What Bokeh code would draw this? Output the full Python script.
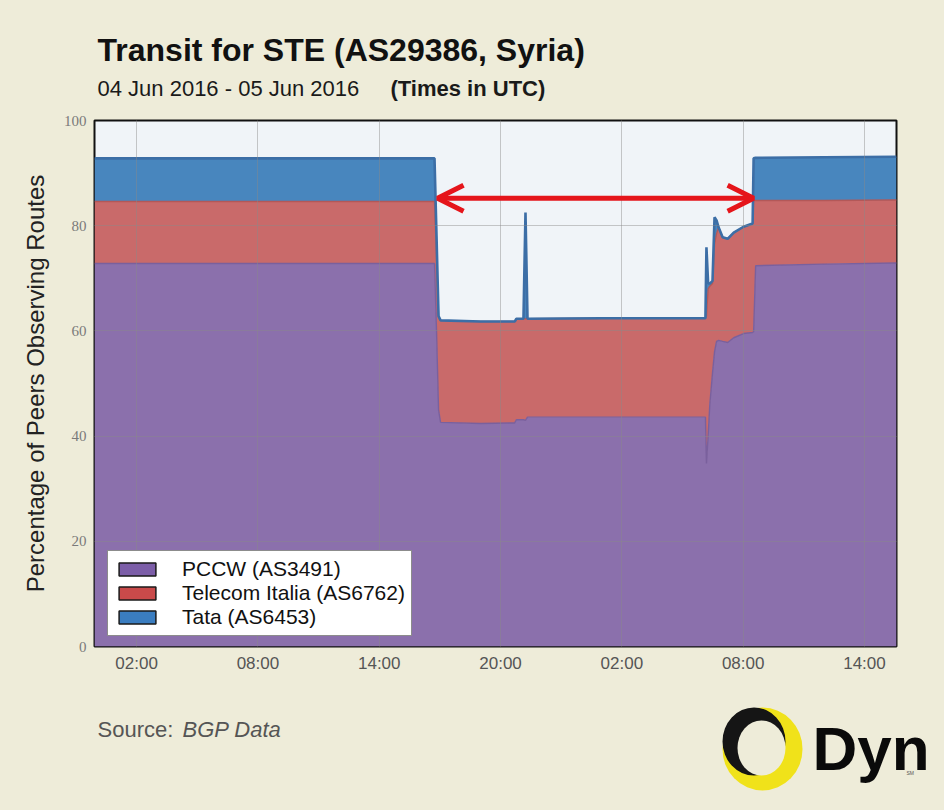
import numpy as np
import pandas as pd
from bokeh.plotting import figure
from bokeh.models import (ColumnDataSource, Range1d, FixedTicker, DatetimeTickFormatter,
                          Legend, LegendItem, Arrow, OpenHead)
from bokeh.layouts import column, row
from bokeh.embed import file_html
from bokeh.resources import INLINE
from bokeh.core.properties import value

# ---------------- data ----------------
times = ["2016-06-03 23:55", "2016-06-04 16:44", "2016-06-04 16:50", "2016-06-04 16:56",
         "2016-06-04 17:02", "2016-06-04 19:00", "2016-06-04 20:42", "2016-06-04 20:47",
         "2016-06-04 21:08", "2016-06-04 21:14", "2016-06-04 21:20", "2016-06-05 01:00",
         "2016-06-05 06:08", "2016-06-05 06:11", "2016-06-05 06:16", "2016-06-05 06:21",
         "2016-06-05 06:29", "2016-06-05 06:35", "2016-06-05 06:41", "2016-06-05 06:47",
         "2016-06-05 06:59", "2016-06-05 07:14", "2016-06-05 07:32", "2016-06-05 08:01",
         "2016-06-05 08:28", "2016-06-05 08:31", "2016-06-05 08:37", "2016-06-05 12:00",
         "2016-06-05 15:35"]
pccw = [72.8, 72.8, 60.0, 45.0, 42.6, 42.4, 42.5, 43.1, 43.1, 43.0, 43.6, 43.6,
        43.6, 34.8, 40.0, 46.0, 52.0, 56.0, 58.0, 58.2, 58.0, 57.8, 58.7, 59.5,
        59.7, 59.8, 72.4, 72.7, 72.9]
telecom = [11.8, 11.8, 14.0, 17.8, 19.4, 19.4, 19.3, 19.2, 19.2, 19.3, 18.7, 18.8,
           18.8, 28.0, 28.0, 22.5, 17.0, 20.5, 20.5, 21.5, 19.8, 19.7, 20.0, 20.3,
           20.7, 25.0, 12.4, 12.1, 12.0]
tata = [8.2, 8.2, 4.0, 0.0, 0.0, 0.0, 0.0, 0.0, 0.0, 20.2, 0.0, 0.0,
        0.0, 13.1, 1.0, 0.5, 0.5, 5.1, 2.5, 0.0, 0.0, 0.0, 0.0, 0.0,
        0.0, 8.0, 8.1, 8.2, 8.2]
series_names = ["PCCW (AS3491)", "Telecom Italia (AS6762)", "Tata (AS6453)"]
y_ticks = [0, 20, 40, 60, 80, 100]
x_ticks = ["2016-06-04 02:00", "2016-06-04 08:00", "2016-06-04 14:00", "2016-06-04 20:00",
           "2016-06-05 02:00", "2016-06-05 08:00", "2016-06-05 14:00"]
x_window = ["2016-06-03 23:55", "2016-06-05 15:35"]
outage = ["2016-06-04 16:53", "2016-06-05 08:31"]
outage_level = 85.2

title_text = "Transit for STE (AS29386, Syria)"
subtitle_dates = "04 Jun 2016 - 05 Jun 2016"
subtitle_tz = "(Times in UTC)"
source_label = "Source:"
source_name = "BGP Data"

# ---------------- style ----------------
BG = "#eeecd9"
PLOT_BG = "#f0f4f8"
fill_colors = ["#8b70ac", "#c96a6a", "#4886be"]
edge_colors = ["#7a609d", "#b35858", "#3c6ea6"]
swatch_colors = ["#7c5ea8", "#c94a4a", "#3a7dc0"]
W = 944
FL, FR = 94, 896   # plot frame left/right on the page


def ms(t):
    return pd.Timestamp(t).value / 1e6


t = pd.to_datetime(times)
src = ColumnDataSource(dict(t=t, pccw=pccw, telecom=telecom, tata=tata))


def deco_panel(h, x0, x1, bl, br):
    f = figure(width=W, height=h, x_range=Range1d(x0, x1), y_range=Range1d(0, h),
               output_backend="svg", toolbar_location=None, min_border=0,
               min_border_left=bl, min_border_right=br,
               x_axis_location=None, y_axis_location=None)
    f.grid.visible = False
    f.outline_line_color = None
    f.background_fill_color = None
    f.border_fill_color = BG
    return f


# ---------------- header ----------------
HDR_H = 108
hdr = deco_panel(HDR_H, FL, FR, FL, W - FR)


def hy(img_y):
    return HDR_H - img_y


hdr.text(x=[97], y=[hy(49)], text=[title_text], text_font=value("Liberation Sans"),
         text_font_style="bold", text_font_size="32px", text_baseline="middle",
         text_color="#111111")
hdr.text(x=[97], y=[hy(88)], text=[subtitle_dates], text_font=value("Liberation Sans"),
         text_font_size="22px", text_baseline="middle", text_color="#1a1a1a")
hdr.text(x=[390], y=[hy(88)], text=[subtitle_tz], text_font=value("Liberation Sans"),
         text_font_style="bold", text_font_size="22px", text_baseline="middle",
         text_color="#1a1a1a")

# ---------------- main chart ----------------
p = figure(width=W, height=592, x_axis_type="datetime",
           x_range=Range1d(pd.Timestamp(x_window[0]), pd.Timestamp(x_window[1])),
           y_range=Range1d(0, 100), output_backend="svg", toolbar_location=None,
           min_border_left=FL, min_border_right=W - FR, min_border_top=12,
           min_border_bottom=54)
p.background_fill_color = PLOT_BG
p.border_fill_color = BG
p.outline_line_color = "#111111"
p.outline_line_width = 2

p.varea_stack(["pccw", "telecom", "tata"], x="t", color=fill_colors, source=src)
cum = np.cumsum(np.array([pccw, telecom, tata]), axis=0)
for k in range(3):
    p.line(t, cum[k], line_color=edge_colors[k], line_width=2.6 if k == 2 else 1.4)

p.xaxis.ticker = FixedTicker(ticks=[ms(x) for x in x_ticks])
fmt = "%H:%M"
p.xaxis.formatter = DatetimeTickFormatter(minutes=fmt, hourmin=fmt, hours=fmt, days=fmt,
                                          months=fmt, years=fmt)
p.yaxis.ticker = FixedTicker(ticks=y_ticks)
for ax in (p.xaxis, p.yaxis):
    ax.axis_line_color = None
    ax.major_tick_line_color = None
    ax.minor_tick_line_color = None
    ax.major_tick_out = 0
    ax.major_tick_in = 0
    ax.minor_tick_out = 0
    ax.minor_tick_in = 0
p.xaxis.major_label_standoff = 7
p.yaxis.major_label_standoff = 8
p.xaxis.major_label_text_font = "Liberation Sans"
p.xaxis.major_label_text_font_size = "17px"
p.xaxis.major_label_text_color = "#555555"
p.yaxis.major_label_text_font = "Liberation Serif"
p.yaxis.major_label_text_font_size = "15px"
p.yaxis.major_label_text_color = "#7a7a7a"
p.yaxis.axis_label = "Percentage of Peers Observing Routes"
p.yaxis.axis_label_text_font = "Liberation Sans"
p.yaxis.axis_label_text_font_style = "normal"
p.yaxis.axis_label_text_font_size = "24px"
p.yaxis.axis_label_text_color = "#222222"
p.yaxis.axis_label_standoff = 12

p.grid.grid_line_color = "#8a8a8a"
p.grid.grid_line_alpha = 0.45
p.grid.level = "guide"

p.add_layout(Arrow(start=OpenHead(size=26, line_color="#e5151b", line_width=5),
                   end=OpenHead(size=26, line_color="#e5151b", line_width=5),
                   x_start=ms(outage[0]), y_start=outage_level,
                   x_end=ms(outage[1]), y_end=outage_level,
                   line_color="#e5151b", line_width=5))

# legend proxies (not drawn in the plot, only used for the legend swatches)
items = []
for name, col in zip(series_names, swatch_colors):
    r = p.quad(left=[np.nan], right=[np.nan], top=[np.nan], bottom=[np.nan],
               fill_color=col, line_color="#1a1a1a", line_width=1.5)
    items.append(LegendItem(label=name, renderers=[r]))
legend = Legend(items=items, location=(13, 10), background_fill_color="white",
                background_fill_alpha=1.0, border_line_color="#1a1a1a",
                border_line_width=1.5, label_text_font="Liberation Sans",
                label_text_font_size="21px", label_text_color="#111111",
                glyph_width=46, glyph_height=16, label_height=20, spacing=0,
                padding=6, margin=0, label_standoff=22)
p.add_layout(legend)

# ---------------- footer (full-width frame) ----------------
FTR_H = 110
ftr = deco_panel(FTR_H, 0, W, 0, 0)


def fy(img_y):
    return 810 - img_y


ftr.text(x=[97], y=[fy(729)], text=[source_label], text_font=value("Liberation Sans"),
         text_font_size="22px", text_baseline="middle", text_color="#555555")
ftr.text(x=[182], y=[fy(729)], text=[source_name], text_font=value("Liberation Sans"),
         text_font_style="italic", text_font_size="22px", text_baseline="middle",
         text_color="#555555")
# Dyn logo ring
ftr.ellipse(x=[762], y=[fy(748.5)], width=80, height=83, fill_color="#f0e21a", line_color=None)
ftr.ellipse(x=[753.5], y=[fy(741)], width=63, height=68, fill_color="#151515", line_color=None)
ftr.ellipse(x=[761], y=[fy(747.5)], width=48, height=55, fill_color=BG, line_color=None)
ftr.text(x=[812], y=[fy(748)], text=["Dyn"], text_font=value("Liberation Sans"),
         text_font_style="bold", text_font_size="62px", text_baseline="middle",
         text_color="#0a0a0a")
ftr.text(x=[906], y=[fy(772)], text=["SM"], text_font=value("Liberation Sans"),
         text_font_size="5px", text_baseline="middle", text_color="#555555")

layout = column(hdr, p, row(ftr, spacing=0), spacing=0,
                styles={"background-color": BG})
open("out.html", "w").write(file_html(layout, INLINE))
